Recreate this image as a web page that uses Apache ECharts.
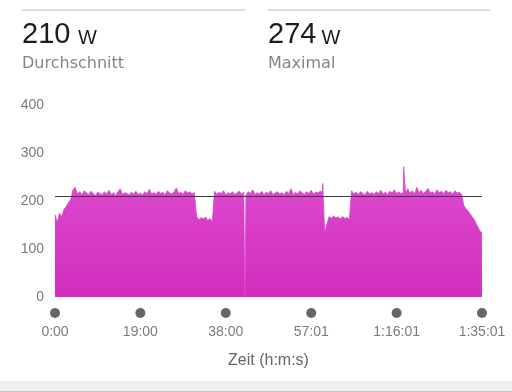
<!DOCTYPE html>
<html>
<head>
<meta charset="utf-8">
<script src="https://cdn.jsdelivr.net/npm/echarts@6/dist/echarts.min.js"></script>
<style>
html,body{margin:0;padding:0;background:#fff;}
#c{width:512px;height:392px;}
</style>
</head>
<body>
<div id="c"></div>
<script>
// ---- header texts ----
const headerValues = ['210', '274'];
const headerUnit = 'W';
const headerLabels = ['Durchschnitt', 'Maximal'];
const averageWatts = 210;

// ---- axes ----
const totalSec = 5701;
const stepSec = 30;
const xTickSeconds = [0, 1140, 2280, 3421, 4561, 5701];
const xTickLabels = ['0:00', '19:00', '38:00', '57:01', '1:16:01', '1:35:01'];
const xAxisTitle = 'Zeit (h:m:s)';
const yMin = 0, yMax = 400, yStep = 100;

// ---- power samples (W), one every 30 s ----
const rampWatts = [172, 156, 175, 168, 183, 189, 197, 204];
const block1Watts = [
  224, 229, 215, 220, 213, 222, 217, 214, 221, 216,
  212, 219, 216, 213, 220, 215, 223, 214, 218, 212,
  220, 226, 214, 218, 216, 213, 219, 215, 221, 214,
  217, 213, 220, 216, 225, 215, 218, 214, 221, 216,
  219, 213, 222, 217, 215, 220, 228, 216, 219, 214,
  222, 217, 220, 215, 218
];
const rest1Watts = [169, 161, 166, 163, 167, 160, 164, 157];
const block2Watts = [
  221, 214, 219, 216, 222, 213, 218, 215, 220, 214,
  217, 221, 215, 219, 213, 220, 216, 224, 214, 218,
  215, 221, 213, 219, 216, 222, 214, 217, 220, 215,
  218, 213, 221, 216, 226, 214, 219, 215, 222, 217,
  214, 220, 216, 223, 215, 219, 217, 221, 219
];
const rest2Watts = [134, 152, 168, 164, 169, 165, 167, 163, 168, 164, 166, 162];
const block3Watts = [
  222, 215, 219, 214, 220, 216, 213, 221, 215, 218,
  214, 220, 216, 223, 215, 219, 213, 221, 217, 224,
  216, 220, 215, 219, 218, 226, 217, 222, 215, 229,
  218, 223, 216, 221, 227, 217, 220, 215, 224, 218,
  221, 216, 223, 218, 220, 215, 222, 217, 219, 214
];
const coolDownWatts = [190, 184, 179, 172, 165, 158, 148, 139, 133];
// short single-sample events [seconds, watts]
const dropouts = [[2535, 0]];
const peaks = [[3575, 237], [4655, 272]];

const watts = [].concat(rampWatts, block1Watts, rest1Watts, block2Watts, rest2Watts, block3Watts, coolDownWatts);
const seriesData = watts.map((w, i) => [i * stepSec, w])
  .concat(dropouts, peaks)
  .sort((a, b) => a[0] - b[0]);

const chart = echarts.init(document.getElementById('c'), null, { renderer: 'canvas' });

const numFont = '"Liberation Sans", Arial, sans-serif';
const subFont = '"DejaVu Sans", sans-serif';

const graphics = [
  { type: 'line', shape: { x1: 22, y1: 10, x2: 245, y2: 10 }, style: { stroke: '#cfcfcf', lineWidth: 1.3 } },
  { type: 'line', shape: { x1: 268, y1: 10, x2: 490, y2: 10 }, style: { stroke: '#cfcfcf', lineWidth: 1.3 } },
  { type: 'text', x: 22, y: 35, style: { text: headerValues[0], fontSize: 29, fontFamily: numFont, fill: '#1c1c1c', verticalAlign: 'middle' } },
  { type: 'text', x: 78, y: 38.5, style: { text: headerUnit, fontSize: 20, fontFamily: numFont, fill: '#1c1c1c', verticalAlign: 'middle' } },
  { type: 'text', x: 268, y: 35, style: { text: headerValues[1], fontSize: 29, fontFamily: numFont, fill: '#1c1c1c', verticalAlign: 'middle' } },
  { type: 'text', x: 321.5, y: 38.5, style: { text: headerUnit, fontSize: 20, fontFamily: numFont, fill: '#1c1c1c', verticalAlign: 'middle' } },
  { type: 'text', x: 22, y: 63.5, style: { text: headerLabels[0], fontSize: 16, fontFamily: subFont, fill: '#858585', verticalAlign: 'middle' } },
  { type: 'text', x: 268, y: 63.5, style: { text: headerLabels[1], fontSize: 16, fontFamily: subFont, fill: '#858585', verticalAlign: 'middle' } },
  { type: 'rect', shape: { x: 0, y: 381, width: 512, height: 10 }, style: { fill: '#f0f0f0' } },
  { type: 'line', shape: { x1: 0, y1: 391.5, x2: 512, y2: 391.5 }, style: { stroke: '#c8c8c8', lineWidth: 1 } }
];

chart.setOption({
  animation: false,
  backgroundColor: '#ffffff',
  grid: { left: 55, right: 30, top: 105.5, bottom: 95, containLabel: false, outerBoundsMode: 'none' },
  graphic: graphics,
  xAxis: {
    type: 'value',
    min: 0,
    max: totalSec,
    axisLine: { show: false },
    axisTick: { show: false },
    splitLine: { show: false },
    axisLabel: {
      customValues: xTickSeconds,
      margin: 5,
      formatter: function (v) {
        const idx = xTickSeconds.indexOf(v);
        return '{d| }\n{t|' + (idx >= 0 ? xTickLabels[idx] : '') + '}';
      },
      rich: {
        d: { width: 10, height: 10, borderRadius: 5, backgroundColor: '#666666', lineHeight: 22, fontSize: 10 },
        t: { fontSize: 14, color: '#7a7a7a', lineHeight: 16, fontFamily: numFont }
      }
    },
    name: xAxisTitle,
    nameLocation: 'middle',
    nameGap: 56,
    nameTextStyle: { fontSize: 16, color: '#666666', fontFamily: numFont }
  },
  yAxis: {
    type: 'value',
    min: yMin,
    max: yMax,
    interval: yStep,
    axisLine: { show: false },
    axisTick: { show: false },
    splitLine: { show: false },
    axisLabel: { color: '#7a7a7a', fontSize: 14, margin: 11, fontFamily: numFont }
  },
  series: [{
    type: 'line',
    data: seriesData,
    showSymbol: false,
    symbol: 'none',
    sampling: 'none',
    lineStyle: { width: 0.8, color: '#d944c9' },
    areaStyle: {
      opacity: 1,
      color: new echarts.graphic.LinearGradient(0, 0, 0, 1, [
        { offset: 0, color: '#de4ccf' },
        { offset: 1, color: '#d12dbd' }
      ])
    },
    markLine: {
      silent: true,
      symbol: 'none',
      label: { show: false },
      lineStyle: { color: '#3c3c3c', width: 1, type: 'solid' },
      data: [{ yAxis: averageWatts }]
    }
  }]
});
</script>
</body>
</html>
